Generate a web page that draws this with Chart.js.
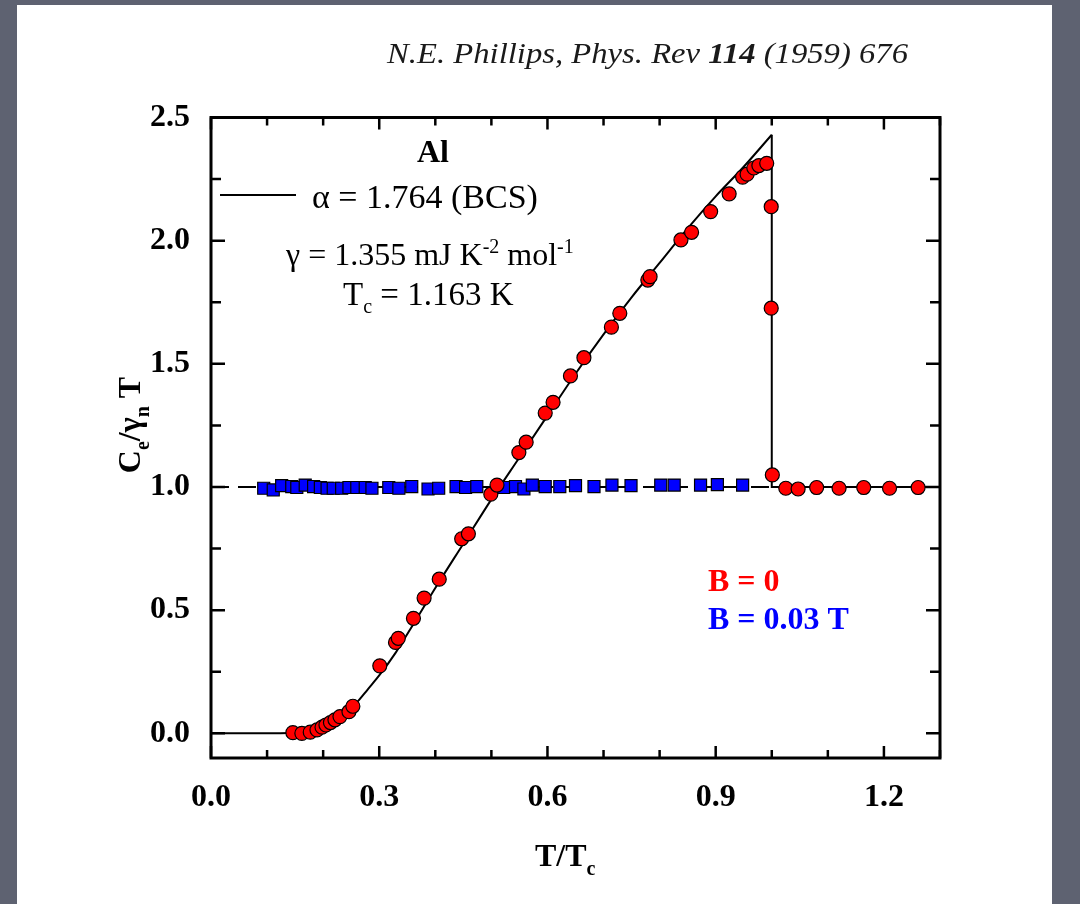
<!DOCTYPE html>
<html lang="en">
<head>
<meta charset="UTF-8">
<title>Al specific heat - Phillips 1959</title>
<script src="https://cdn.jsdelivr.net/npm/chart.js@4.4.0/dist/chart.umd.min.js"></script>
<style>
  html, body { margin: 0; padding: 0; background: #5e6271; }
  #wrap { width: 1080px; height: 904px; }
</style>
</head>
<body>
<div id="wrap"><canvas id="chart" width="1080" height="904"></canvas></div>
<script>
// B = 0 (red circles), T/Tc and Ce/(gamma T)
const redT = [0.146, 0.162, 0.177, 0.189, 0.198, 0.205, 0.213, 0.221, 0.230, 0.246, 0.253,
              0.301, 0.329, 0.334, 0.361, 0.380, 0.407, 0.447, 0.459, 0.499, 0.510,
              0.549, 0.562, 0.596, 0.610, 0.641, 0.665, 0.714, 0.729, 0.779, 0.783,
              0.838, 0.857, 0.891, 0.924, 0.948, 0.956, 0.968, 0.977, 0.991,
              0.999, 0.999, 1.001, 1.025, 1.047, 1.080, 1.120, 1.164, 1.210, 1.261];
const redC = [0.003, 0.000, 0.005, 0.014, 0.025, 0.034, 0.044, 0.055, 0.068, 0.088, 0.110,
              0.274, 0.369, 0.386, 0.467, 0.549, 0.626, 0.790, 0.810, 0.971, 1.008,
              1.140, 1.182, 1.300, 1.344, 1.451, 1.525, 1.649, 1.705, 1.840, 1.854,
              2.003, 2.034, 2.118, 2.190, 2.258, 2.270, 2.295, 2.305, 2.314,
              2.138, 1.726, 1.049, 0.995, 0.992, 0.998, 0.995, 0.998, 0.995, 0.998];

// B = 0.03 T (blue squares)
const blueT = [0.094, 0.111, 0.126, 0.144, 0.153, 0.168, 0.183, 0.195, 0.207, 0.218,
               0.233, 0.246, 0.260, 0.275, 0.287, 0.317, 0.335, 0.358, 0.387, 0.406,
               0.437, 0.454, 0.474, 0.522, 0.543, 0.558, 0.573, 0.596, 0.622, 0.650,
               0.683, 0.715, 0.749, 0.802, 0.826, 0.873, 0.903, 0.948];
const blueC = [0.995, 0.988, 1.006, 1.002, 0.998, 1.008, 1.002, 0.998, 0.995, 0.995,
               0.995, 0.998, 0.998, 0.998, 0.995, 0.998, 0.995, 1.002, 0.992, 0.995,
               1.002, 0.998, 1.002, 0.998, 1.002, 0.992, 1.008, 1.002, 1.002, 1.006,
               1.002, 1.008, 1.006, 1.008, 1.008, 1.008, 1.010, 1.008];

// BCS curve (alpha = 1.764)
const bcsT = [0, 0.10, 0.14, 0.16, 0.18, 0.20, 0.22, 0.24, 0.26, 0.28, 0.30, 0.33, 0.36,
              0.40, 0.45, 0.50, 0.55, 0.60, 0.65, 0.70, 0.75, 0.80, 0.85, 0.90, 0.95, 1.0];
const bcsC = [0, 0, 0.001, 0.004, 0.010, 0.022, 0.042, 0.075, 0.125, 0.180, 0.235, 0.330, 0.440,
              0.590, 0.770, 0.950, 1.120, 1.290, 1.460, 1.620, 1.770, 1.910, 2.050, 2.180, 2.300, 2.430];
// jump at Tc and normal state above
const jumpT = [1.0, 1.0, 1.3];
const jumpC = [2.43, 1.0, 1.0];
// normal state below Tc (dashed)
const normT = [0, 1.0];
const normC = [1, 1];

const xTicks = [0, 0.1, 0.2, 0.3, 0.4, 0.5, 0.6, 0.7, 0.8, 0.9, 1.0, 1.1, 1.2, 1.3];
const xLabels = ['0.0', '0.3', '0.6', '0.9', '1.2'];
const yTicks = [0, 0.25, 0.5, 0.75, 1.0, 1.25, 1.5, 1.75, 2.0, 2.25, 2.5];
const yLabels = ['0.0', '0.5', '1.0', '1.5', '2.0', '2.5'];

const pts = (xs, ys) => xs.map((x, i) => ({ x: x, y: ys[i] }));
const SERIF = '"Liberation Serif", "Times New Roman", serif';

// draw a run of text pieces: [text, font, dy]
function drawParts(ctx, parts, x, y) {
    let cx = x;
    parts.forEach(p => {
        ctx.font = p[1];
        ctx.fillText(p[0], cx, y + (p[2] || 0));
        cx += ctx.measureText(p[0]).width;
    });
    return cx - x;
}
function partsWidth(ctx, parts) {
    let w = 0;
    parts.forEach(p => { ctx.font = p[1]; w += ctx.measureText(p[0]).width; });
    return w;
}

const background = {
    id: 'background',
    beforeDraw(chart) {
        const ctx = chart.ctx;
        ctx.save();
        ctx.fillStyle = '#5e6271';
        ctx.fillRect(0, 0, chart.width, chart.height);
        ctx.fillStyle = '#ffffff';
        ctx.fillRect(17, 5, 1035, 899);
        ctx.restore();
    }
};

const frame = {
    id: 'frame',
    afterDraw(chart) {
        const ctx = chart.ctx, a = chart.chartArea;
        const xs = chart.scales.x, ys = chart.scales.y;
        ctx.save();
        ctx.strokeStyle = '#000';
        ctx.lineWidth = 2.5;
        ctx.beginPath();
        xTicks.forEach(v => {
            const px = xs.getPixelForValue(v);
            const len = xLabels.includes(v.toFixed(1)) ? 12 : 8;
            ctx.moveTo(px, a.bottom); ctx.lineTo(px, a.bottom - len);
            ctx.moveTo(px, a.top); ctx.lineTo(px, a.top + len);
        });
        yTicks.forEach(v => {
            const py = ys.getPixelForValue(v);
            const len = yLabels.includes(v.toFixed(1)) ? 14 : 10;
            ctx.moveTo(a.left, py); ctx.lineTo(a.left + len, py);
            ctx.moveTo(a.right, py); ctx.lineTo(a.right - len, py);
        });
        ctx.stroke();
        ctx.lineWidth = 3;
        ctx.strokeRect(a.left, a.top, a.right - a.left, a.bottom - a.top);

        // legend sample line for the BCS curve
        ctx.lineWidth = 2;
        ctx.beginPath();
        ctx.moveTo(220, 195); ctx.lineTo(296, 195);
        ctx.stroke();

        ctx.fillStyle = '#000';
        ctx.textBaseline = 'alphabetic';
        ctx.textAlign = 'left';
        const R = '32px ' + SERIF, B = 'bold 32px ' + SERIF;
        const RS = '20px ' + SERIF, BS = 'bold 20px ' + SERIF;

        ctx.font = 'bold 32px ' + SERIF;
        ctx.textAlign = 'center';
        ctx.fillText('Al', 433, 162);
        ctx.textAlign = 'left';
        drawParts(ctx, [['\u03b1 = 1.764 (BCS)', '34px ' + SERIF]], 312, 208);
        drawParts(ctx, [['\u03b3 = 1.355 mJ K', R], ['-2', RS, -12], [' mol', R], ['-1', RS, -12]], 286, 265);
        drawParts(ctx, [['T', '33px ' + SERIF], ['c', RS, 8], [' = 1.163 K', '33px ' + SERIF]], 343, 305);

        ctx.fillStyle = '#ff0000';
        drawParts(ctx, [['B = 0', B]], 708, 591);
        ctx.fillStyle = '#0000ff';
        drawParts(ctx, [['B = 0.03 T', B]], 708, 629);

        // axis titles
        ctx.fillStyle = '#000';
        drawParts(ctx, [['T/T', B], ['c', BS, 9]], 535, 866);
        const yt = [['C', B], ['e', BS, 9], ['/\u03b3', B], ['n', BS, 9], [' T', B]];
        const yw = partsWidth(ctx, yt);
        ctx.save();
        ctx.translate(140, 425);
        ctx.rotate(-Math.PI / 2);
        drawParts(ctx, yt, -yw / 2, 0);
        ctx.restore();

        // reference line at the top
        const tt = [['N.E. Phillips, Phys. Rev ', 'italic 29px ' + SERIF],
                    ['114', 'italic bold 29px ' + SERIF],
                    [' (1959) 676', 'italic 29px ' + SERIF]];
        const tw = partsWidth(ctx, tt);
        ctx.save();
        ctx.fillStyle = '#1a1a1a';
        ctx.translate(387, 63);
        ctx.scale(521 / tw, 1);
        drawParts(ctx, tt, 0, 0);
        ctx.restore();
        ctx.restore();
    }
};

new Chart(document.getElementById('chart').getContext('2d'), {
    type: 'scatter',
    data: {
        datasets: [{
            label: 'B = 0',
            data: pts(redT, redC),
            pointStyle: 'circle',
            pointRadius: 7,
            backgroundColor: '#ff0000',
            borderColor: '#000',
            borderWidth: 1.2,
            order: 0
        }, {
            label: 'B = 0.03 T',
            data: pts(blueT, blueC),
            pointStyle: 'rect',
            pointRadius: 8.5,
            backgroundColor: '#0000ff',
            borderColor: '#000',
            borderWidth: 1.2,
            order: 1
        }, {
            label: 'BCS',
            data: pts(bcsT, bcsC),
            showLine: true,
            pointRadius: 0,
            borderColor: '#000',
            borderWidth: 2,
            cubicInterpolationMode: 'monotone',
            order: 2
        }, {
            label: 'jump',
            data: pts(jumpT, jumpC),
            showLine: true,
            pointRadius: 0,
            borderColor: '#000',
            borderWidth: 2,
            order: 3
        }, {
            label: 'normal',
            data: pts(normT, normC),
            showLine: true,
            pointRadius: 0,
            borderColor: '#000',
            borderWidth: 2,
            borderDash: [18, 9],
            order: 4
        }]
    },
    options: {
        responsive: false,
        animation: false,
        devicePixelRatio: 1,
        layout: { padding: { left: 0, right: 140, top: 117.5, bottom: 0 } },
        plugins: { legend: { display: false }, tooltip: { enabled: false } },
        scales: {
            x: {
                type: 'linear', min: 0, max: 1.3,
                afterBuildTicks: s => { s.ticks = xTicks.map(v => ({ value: v })); },
                afterFit: s => { s.height = 146; },
                grid: { display: false, drawTicks: false },
                border: { display: false },
                ticks: {
                    autoSkip: false, maxRotation: 0, padding: 21, color: '#000',
                    font: { family: SERIF, size: 32, weight: 'bold' },
                    callback: v => xLabels.includes(v.toFixed(1)) ? v.toFixed(1) : ''
                }
            },
            y: {
                type: 'linear', min: -0.1, max: 2.5,
                afterBuildTicks: s => { s.ticks = yTicks.map(v => ({ value: v })); },
                afterFit: s => { s.width = 211; },
                grid: { display: false, drawTicks: false },
                border: { display: false },
                ticks: {
                    autoSkip: false, padding: 21, color: '#000',
                    font: { family: SERIF, size: 32, weight: 'bold' },
                    callback: v => yLabels.includes(v.toFixed(1)) ? v.toFixed(1) : ''
                }
            }
        }
    },
    plugins: [background, frame]
});
</script>
</body>
</html>
